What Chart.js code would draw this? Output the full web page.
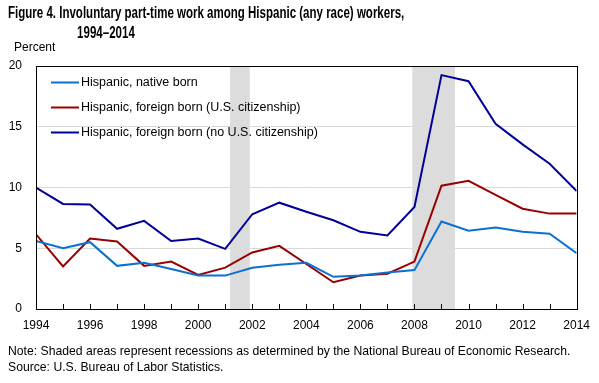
<!DOCTYPE html>
<html>
<head>
<meta charset="utf-8">
<style>
  body { margin: 0; width: 599px; height: 383px; position: relative; background: #fff; font-family: "Liberation Sans", Roboto, sans-serif; overflow: hidden; }
  #wrap { position: absolute; left: 0; top: 0; width: 599px; height: 383px; }
  .title { position: absolute; left: 8px; top: 3px; font-weight: bold; font-size: 16px; line-height: 20px; color: #000; white-space: nowrap; transform: scaleX(0.72); transform-origin: 0 0; }
  .title span { display: block; padding-left: 96px; }
  .unit { position: absolute; left: 14px; top: 40px; font-size: 12px; }
  .note { position: absolute; left: 8px; top: 343px; font-size: 12.2px; line-height: 16px; white-space: nowrap; }
</style>
</head>
<body>
<div id="wrap"><canvas id="chart" width="599" height="383"></canvas></div>
<div class="title">Figure 4. Involuntary part-time work among Hispanic (any race) workers,<span>1994–2014</span></div>
<div class="unit">Percent</div>
<div class="note">Note: Shaded areas represent recessions as determined by the National Bureau of Economic Research.<br>Source: U.S. Bureau of Labor Statistics.</div>

<script src="https://cdn.jsdelivr.net/npm/chart.js"></script>
<script>
  const years = [1994, 1995, 1996, 1997, 1998, 1999, 2000, 2001, 2002, 2003, 2004,
    2005, 2006, 2007, 2008, 2009, 2010, 2011, 2012, 2013, 2014];

  const nativeBorn = [5.6, 5.0, 5.5, 3.55, 3.8, 3.3, 2.75, 2.75, 3.4, 3.65, 3.8,
    2.65, 2.75, 3.0, 3.2, 7.2, 6.45, 6.7, 6.35, 6.2, 4.6];
  const foreignCitizen = [6.15, 3.5, 5.8, 5.55, 3.55, 3.9, 2.8, 3.4, 4.65, 5.2, 3.7,
    2.2, 2.75, 2.9, 3.9, 10.15, 10.55, 9.4, 8.25, 7.85, 7.85];
  const foreignNonCitizen = [10.0, 8.65, 8.6, 6.6, 7.25, 5.6, 5.8, 4.95, 7.8, 8.75, 8.0,
    7.3, 6.35, 6.05, 8.4, 19.25, 18.75, 15.25, 13.55, 11.95, 9.7];

  const recessions = [[2001.18, 2001.91], [2007.92, 2009.5]];

  const ctx = document.getElementById('chart');

  const toPoints = (values) => values.map((v, i) => ({ x: years[i], y: v }));

  const plotExtras = {
    id: 'plotExtras',
    beforeDatasetsDraw(chart) {
      const { ctx, chartArea, scales: { x } } = chart;
      ctx.save();
      ctx.fillStyle = '#dcdcdc';
      recessions.forEach(([a, b]) => {
        const x0 = x.getPixelForValue(a);
        const x1 = x.getPixelForValue(b);
        ctx.fillRect(x0, chartArea.top, x1 - x0, chartArea.bottom - chartArea.top);
      });
      ctx.restore();
    },
    afterDatasetsDraw(chart) {
      const { ctx, chartArea, scales: { x } } = chart;
      ctx.save();
      ctx.strokeStyle = '#000';
      ctx.lineWidth = 1;
      ctx.strokeRect(Math.round(chartArea.left) + 0.5, Math.round(chartArea.top) + 0.5,
        Math.round(chartArea.right - chartArea.left), Math.round(chartArea.bottom - chartArea.top));
      // tick marks every year, pointing into the plot
      ctx.beginPath();
      years.forEach((yr) => {
        const px = Math.round(x.getPixelForValue(yr)) + 0.5;
        ctx.moveTo(px, chartArea.bottom);
        ctx.lineTo(px, chartArea.bottom - 5);
      });
      ctx.stroke();

      // legend inside the plot
      ctx.font = '12.5px "Liberation Sans", sans-serif';
      ctx.textBaseline = 'middle';
      ctx.fillStyle = '#000';
      chart.data.datasets.forEach((ds, i) => {
        const ly = chartArea.top + 16.5 + i * 25;
        ctx.strokeStyle = ds.borderColor;
        ctx.lineWidth = 2;
        ctx.beginPath();
        ctx.moveTo(chartArea.left + 15, ly);
        ctx.lineTo(chartArea.left + 43, ly);
        ctx.stroke();
        ctx.fillText(ds.label, chartArea.left + 45, ly);
      });
      ctx.restore();
    }
  };

  const chart = new Chart(ctx, {
    type: 'line',
    data: {
      datasets: [
        { label: 'Hispanic, native born', data: toPoints(nativeBorn), borderColor: '#0a70d2' },
        { label: 'Hispanic, foreign born (U.S. citizenship)', data: toPoints(foreignCitizen), borderColor: '#990000' },
        { label: 'Hispanic, foreign born (no U.S. citizenship)', data: toPoints(foreignNonCitizen), borderColor: '#000099' },
      ],
    },
    options: {
      responsive: false,
      animation: false,
      devicePixelRatio: 1,
      layout: { padding: { left: 0, top: 66, right: 22, bottom: 0 } },
      elements: {
        line: { borderWidth: 2, tension: 0 },
        point: { radius: 0 },
      },
      plugins: {
        legend: { display: false },
        tooltip: { enabled: false },
      },
      scales: {
        x: {
          type: 'linear',
          min: 1994,
          max: 2014,
          afterFit(scale) { scale.height = 74; },
          grid: { display: false, drawTicks: false },
          border: { display: false },
          ticks: {
            stepSize: 2,
            padding: 9,
            color: '#000',
            font: { size: 12, family: '"Liberation Sans", sans-serif' },
            callback: (v) => String(v),
          },
        },
        y: {
          min: 0,
          max: 20,
          afterFit(scale) { scale.width = 36; },
          grid: {
            drawTicks: false,
            color: (c) => (c.tick && (c.tick.value === 0 || c.tick.value === 20)) ? 'rgba(0,0,0,0)' : '#d9d9d9',
          },
          border: { display: false },
          ticks: {
            stepSize: 5,
            padding: 14,
            color: '#000',
            font: { size: 12, family: '"Liberation Sans", sans-serif' },
          },
        },
      },
    },
    plugins: [plotExtras],
  });
</script>
</body>
</html>
